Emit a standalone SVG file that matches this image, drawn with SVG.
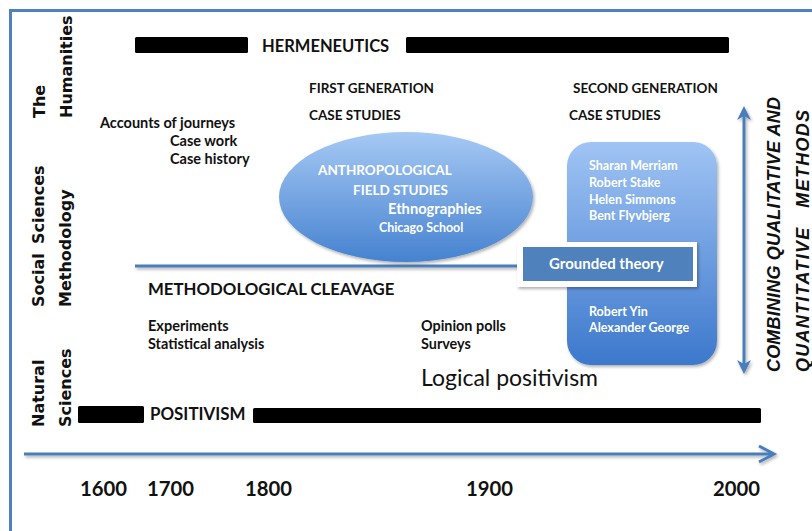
<svg xmlns="http://www.w3.org/2000/svg" width="812" height="531" viewBox="0 0 812 531">
<defs>
<style>
.lbl{font-family:Lato,"Liberation Sans",sans-serif;font-weight:bold;fill:#111}
.vl{font-family:"DejaVu Sans",Verdana,sans-serif;font-weight:bold;font-size:16px;fill:#111}
.wt{font-family:Lato,"Liberation Sans",sans-serif;font-weight:bold;fill:#fff}
.vi{font-family:"Liberation Sans",Arial,sans-serif;font-weight:bold;font-style:italic;font-size:18px;fill:#111}
.bar{fill:#000}
.bl{stroke:#4a7ebb;stroke-width:3;fill:none}
</style>
<linearGradient id="gEll" x1="0" y1="0" x2="0" y2="1">
<stop offset="0" stop-color="#a6c9f4"/>
<stop offset="1" stop-color="#4682d0"/>
</linearGradient>
<linearGradient id="gRect" x1="0" y1="0" x2="0" y2="1">
<stop offset="0" stop-color="#a0c4f4"/>
<stop offset="1" stop-color="#3c78cc"/>
</linearGradient>
<filter id="sh" filterUnits="userSpaceOnUse" x="0" y="0" width="812" height="531">
<feDropShadow dx="1.5" dy="2" stdDeviation="1.5" flood-color="#000" flood-opacity="0.3"/>
</filter>
</defs>
<rect x="0" y="0" width="812" height="531" fill="#fff"/>
<!-- frame -->
<path d="M10.5 531 V10.5 H812" fill="none" stroke="#4f81bd" stroke-width="3"/>

<!-- side labels -->
<g id="humanities">
<text class="vl" transform="rotate(-90 45 118)" x="45" y="118">The</text>
<text class="vl" transform="rotate(-90 72 118)" x="72" y="118">Humanities</text>
</g>
<g id="social">
<text class="vl" transform="rotate(-90 44 307)" x="44" y="307">Social</text>
<text class="vl" transform="rotate(-90 44 244)" x="44" y="244">Sciences</text>
<text class="vl" transform="rotate(-90 71 307)" x="71" y="307">Methodology</text>
</g>
<g id="natural">
<text class="vl" transform="rotate(-90 44 427)" x="44" y="427">Natural</text>
<text class="vl" transform="rotate(-90 71 427)" x="71" y="427">Sciences</text>
</g>

<!-- hermeneutics -->
<g id="hermeneutics">
<rect class="bar" x="135" y="37" width="113" height="16" rx="1.5"/>
<text class="lbl" x="262" y="52" font-size="16.5">HERMENEUTICS</text>
<rect class="bar" x="406" y="37" width="323" height="16" rx="1.5"/>
</g>

<g id="early">
<text class="lbl" x="100" y="128" font-size="14.5">Accounts of journeys</text>
<text class="lbl" x="170" y="146" font-size="14.5">Case work</text>
<text class="lbl" x="170" y="164" font-size="14.5">Case history</text>
</g>

<g id="first-gen">
<text class="lbl" x="309" y="93" font-size="13.5">FIRST GENERATION</text>
<text class="lbl" x="309" y="120" font-size="13.5">CASE STUDIES</text>
</g>
<g id="second-gen">
<text class="lbl" x="573" y="93" font-size="13.5">SECOND GENERATION</text>
<text class="lbl" x="569" y="120" font-size="13.5">CASE STUDIES</text>
</g>

<!-- connectors -->
<g id="connectors">
<line class="bl" x1="135" y1="266" x2="520" y2="266" filter="url(#sh)"/>
<g filter="url(#sh)">
<line class="bl" x1="24" y1="454" x2="773" y2="454"/>
<polyline class="bl" points="759,446 774,454 759,462"/>
</g>
<g filter="url(#sh)">
<line x1="744" y1="112" x2="744" y2="368" stroke="#4a7ebb" stroke-width="3"/>
<path d="M744 106 L751 120 L744 116 L737 120 Z" fill="#4a7ebb"/>
<path d="M744 374 L751 360 L744 364 L737 360 Z" fill="#4a7ebb"/>
</g>
</g>

<!-- anthropological ellipse -->
<g id="anthropological">
<ellipse cx="406" cy="197" rx="127" ry="65" fill="url(#gEll)" filter="url(#sh)"/>
<text class="wt" x="318" y="175" font-size="13.5">ANTHROPOLOGICAL</text>
<text class="wt" x="353" y="195" font-size="13.5">FIELD STUDIES</text>
<text class="wt" x="388" y="214" font-size="14.7">Ethnographies</text>
<text class="wt" x="379" y="232" font-size="12.4">Chicago School</text>
</g>

<!-- second generation box -->
<g id="second-box">
<rect x="567" y="142" width="150" height="223" rx="24" fill="url(#gRect)" filter="url(#sh)"/>
<text class="wt" x="589" y="170" font-size="12.5">Sharan  Merriam</text>
<text class="wt" x="589" y="187" font-size="12.5">Robert Stake</text>
<text class="wt" x="589" y="204" font-size="12.5">Helen Simmons</text>
<text class="wt" x="589" y="220" font-size="12.5">Bent Flyvbjerg</text>
<text class="wt" x="589" y="316" font-size="12.5">Robert Yin</text>
<text class="wt" x="589" y="332" font-size="12.5">Alexander George</text>
</g>

<g id="grounded">
<rect x="517" y="242" width="180" height="45" fill="#fff" filter="url(#sh)"/>
<rect x="523" y="247" width="170" height="34" fill="#4f81bd"/>
<text class="wt" x="549" y="269" font-size="15">Grounded theory</text>
</g>

<g id="cleavage">
<text class="lbl" x="148" y="295" font-size="16.8">METHODOLOGICAL CLEAVAGE</text>
</g>

<g id="quant">
<text class="lbl" x="148" y="331" font-size="14.5">Experiments</text>
<text class="lbl" x="148" y="349" font-size="14.4">Statistical analysis</text>
<text class="lbl" x="421" y="331" font-size="14.4">Opinion polls</text>
<text class="lbl" x="421" y="349" font-size="14.4">Surveys</text>
</g>
<g id="logical">
<text x="421" y="386" font-family="Lato,'Liberation Sans',sans-serif" font-size="23" fill="#111">Logical positivism</text>
</g>

<g id="positivism">
<rect class="bar" x="78" y="406" width="66" height="17" rx="1.5"/>
<text class="lbl" x="150" y="420" font-size="16.9">POSITIVISM</text>
<rect class="bar" x="253" y="408" width="508" height="15" rx="1.5"/>
</g>

<g id="combining">
<text class="vi" transform="rotate(-90 780 372)" x="780" y="372" textLength="275">COMBINING QUALITATIVE AND</text>
<text class="vi" transform="rotate(-90 809 372)" x="809" y="372" textLength="262" xml:space="preserve">QUANTITATIVE   METHODS</text>
</g>

<g id="years">
<text class="lbl" x="80" y="496" font-size="20.3">1600</text>
<text class="lbl" x="147" y="496" font-size="20.3">1700</text>
<text class="lbl" x="245" y="496" font-size="20.3">1800</text>
<text class="lbl" x="466" y="496" font-size="20.3">1900</text>
<text class="lbl" x="713" y="496" font-size="20.3">2000</text>
</g>
</svg>
